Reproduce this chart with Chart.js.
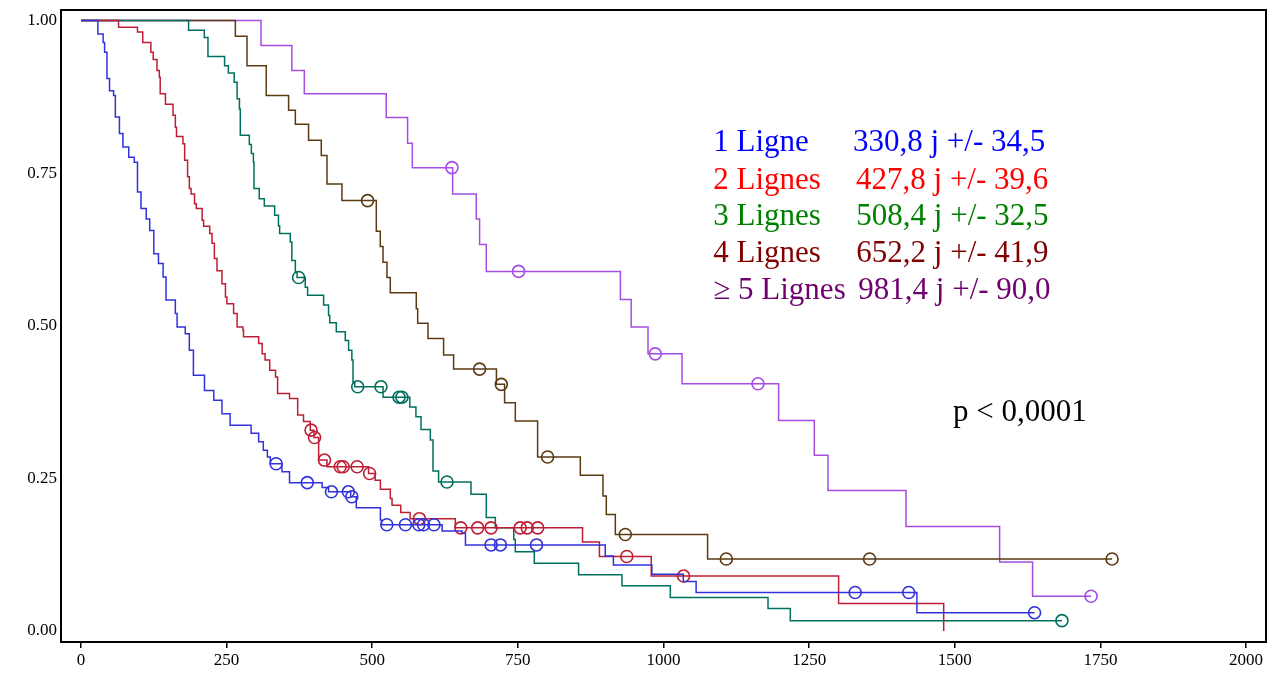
<!DOCTYPE html>
<html>
<head>
<meta charset="utf-8">
<script src="https://cdn.jsdelivr.net/npm/chart.js@4.4.0/dist/chart.umd.min.js"></script>
<style>
  html, body { margin: 0; padding: 0; background: #fff; }
  #wrap { width: 1283px; height: 685px; }
</style>
</head>
<body>
<div id="wrap"><canvas id="km"></canvas></div>
<script>
// Kaplan-Meier curves: time (jours) where the curve drops, survival after the drop
const ligne1Times = [0, 29, 38, 40.5, 44.6, 49, 56, 59, 66, 72, 82, 91.5, 97, 103, 112, 118, 125, 133, 141, 146, 162, 165, 179, 186, 193, 212, 228, 242, 256, 292, 305, 313, 320, 325, 345, 358, 414, 425, 463, 472.6, 514, 516, 620, 654, 660, 900, 914, 980, 1034, 1056, 1435, 1637];
const ligne1Surv  = [1, 0.978, 0.964, 0.948, 0.905, 0.885, 0.877, 0.842, 0.815, 0.793, 0.776, 0.768, 0.719, 0.692, 0.675, 0.656, 0.618, 0.602, 0.58, 0.542, 0.52, 0.498, 0.487, 0.46, 0.419, 0.394, 0.378, 0.356, 0.337, 0.324, 0.31, 0.296, 0.285, 0.274, 0.261, 0.243, 0.235, 0.228, 0.22, 0.202, 0.182, 0.174, 0.164, 0.16, 0.141, 0.123, 0.108, 0.093, 0.081, 0.063, 0.03, 0.03];
const ligne1Censor = [335, 388.5, 430, 459, 465, 525, 557, 580, 588, 606, 704, 720, 782, 1329, 1421, 1637];

const ligne2Times = [0, 64.5, 97, 106, 120, 124, 130.5, 134.5, 136, 145, 158, 162, 164, 175, 178, 183, 186, 189, 195, 198, 208, 210.5, 221, 225, 229, 233.5, 242, 248, 250.5, 262, 268, 278, 279, 305, 311, 316, 324, 334, 337.5, 358, 372, 382, 393.6, 400, 408, 422.3, 493.7, 505, 514, 531, 534, 549, 565, 642.6, 861, 890, 979, 1300.6, 1481];
const ligne2Surv  = [1, 0.989, 0.981, 0.964, 0.948, 0.936, 0.918, 0.907, 0.88, 0.863, 0.845, 0.825, 0.81, 0.798, 0.771, 0.744, 0.725, 0.716, 0.7, 0.692, 0.673, 0.663, 0.651, 0.635, 0.61, 0.59, 0.569, 0.547, 0.536, 0.52, 0.498, 0.493, 0.482, 0.471, 0.454, 0.444, 0.427, 0.416, 0.389, 0.381, 0.354, 0.343, 0.329, 0.317, 0.28, 0.269, 0.258, 0.247, 0.232, 0.217, 0.206, 0.194, 0.184, 0.169, 0.146, 0.122, 0.09, 0.045, 0];
const ligne2Censor = [395, 401, 418, 445, 450, 474, 495.5, 581, 652, 681, 704, 754, 766, 784, 937, 1034.5];

const ligne3Times = [0, 184.7, 211.7, 218, 246.5, 253, 263, 268, 272, 273.5, 289, 292.5, 296, 297, 306, 314.7, 332.5, 339, 341, 359.3, 362, 368, 371, 385, 389, 416.5, 425, 427, 438.3, 453.7, 459.4, 465, 467, 470, 518.6, 564.5, 575, 583.7, 599.7, 604.3, 613.9, 669.5, 695.8, 711.3, 743, 745.6, 778.2, 854.2, 928.7, 1011.7, 1179.4, 1217.7, 1684];
const ligne3Surv  = [1, 0.984, 0.972, 0.941, 0.926, 0.914, 0.899, 0.872, 0.855, 0.812, 0.797, 0.782, 0.768, 0.725, 0.708, 0.696, 0.681, 0.664, 0.651, 0.637, 0.607, 0.588, 0.579, 0.563, 0.55, 0.534, 0.517, 0.505, 0.49, 0.476, 0.46, 0.444, 0.408, 0.4, 0.383, 0.367, 0.351, 0.33, 0.313, 0.262, 0.244, 0.224, 0.186, 0.169, 0.15, 0.13, 0.111, 0.092, 0.074, 0.055, 0.037, 0.017, 0.017];
const ligne3Censor = [373.6, 475, 515, 546, 551, 628.3, 1684];

const ligne4Times = [0, 265, 285, 318, 356.4, 368, 390.7, 412.5, 422.3, 448, 507, 513.8, 518.5, 525.3, 531, 575.6, 578, 595.7, 622.5, 639.7, 713.2, 727.2, 745.6, 783.9, 857.2, 896.1, 901.8, 917.3, 1075.7, 1770];
const ligne4Surv  = [1, 0.974, 0.926, 0.877, 0.853, 0.83, 0.804, 0.779, 0.732, 0.705, 0.655, 0.63, 0.604, 0.579, 0.554, 0.528, 0.504, 0.479, 0.452, 0.429, 0.404, 0.374, 0.344, 0.285, 0.255, 0.221, 0.191, 0.158, 0.118, 0.118];
const ligne4Censor = [492, 684.3, 721.6, 801, 934.4, 1107.8, 1353.8, 1770];

const ligne5Times = [0, 309, 362, 383.4, 524, 560.7, 568.8, 638, 678.6, 684.3, 695.8, 926, 944.5, 973.4, 1031.8, 1197.6, 1258.9, 1282.4, 1416.3, 1577, 1633.6, 1734];
const ligne5Surv  = [1, 0.959, 0.918, 0.88, 0.841, 0.799, 0.759, 0.716, 0.675, 0.633, 0.589, 0.543, 0.498, 0.454, 0.405, 0.345, 0.288, 0.23, 0.171, 0.113, 0.057, 0.057];
const ligne5Censor = [636.9, 751.2, 985.9, 1162.2, 1734];

const xTicks = [0, 250, 500, 750, 1000, 1250, 1500, 1750, 2000];
const yTicks = [0, 0.25, 0.5, 0.75, 1];

const legendLabels = ['1 Ligne', '2 Lignes', '3 Lignes', '4 Lignes', '\u2265 5 Lignes'];
const legendValues = ['330,8 j +/- 34,5', '427,8 j +/- 39,6', '508,4 j +/- 32,5', '652,2 j +/- 41,9', '981,4 j +/- 90,0'];
const pText = 'p < 0,0001';

const curveColors = ['#3232dc', '#be1e34', '#00705e', '#5b3a12', '#a44de4'];
const textColors = ['#0000ff', '#ff0000', '#008000', '#800000', '#700070'];

const SERIF = '"Liberation Serif", "Times New Roman", serif';

function survAt(times, surv, t) {
    let v = surv[0];
    for (let i = 0; i < times.length; i++) {
        if (times[i] <= t) v = surv[i];
    }
    return v;
}

const groups = [
    [ligne1Times, ligne1Surv, ligne1Censor],
    [ligne2Times, ligne2Surv, ligne2Censor],
    [ligne3Times, ligne3Surv, ligne3Censor],
    [ligne4Times, ligne4Surv, ligne4Censor],
    [ligne5Times, ligne5Surv, ligne5Censor]
];

const datasets = [];
groups.forEach((g, i) => {
    datasets.push({
        type: 'line',
        data: g[0].map((t, k) => ({ x: t, y: g[1][k] })),
        borderColor: curveColors[i],
        borderWidth: 1.5,
        stepped: 'before',
        pointRadius: 0,
        fill: false
    });
    datasets.push({
        type: 'scatter',
        data: g[2].map(t => ({ x: t, y: survAt(g[0], g[1], t) })),
        borderColor: curveColors[i],
        backgroundColor: 'rgba(0,0,0,0)',
        borderWidth: 1.6,
        pointRadius: 6,
        pointStyle: 'circle'
    });
});

// frame around the plot + text annotations
const annotations = {
    id: 'annotations',
    afterDraw(chart) {
        const { ctx, chartArea, scales } = chart;
        const xs = scales.x, ys = scales.y;
        ctx.save();
        ctx.strokeStyle = '#000';
        ctx.lineWidth = 2;
        ctx.strokeRect(chartArea.left, chartArea.top, chartArea.right - chartArea.left, chartArea.bottom - chartArea.top);

        ctx.font = '31px ' + SERIF;
        ctx.textAlign = 'left';
        ctx.textBaseline = 'alphabetic';
        const rowY = [0.786, 0.7245, 0.6645, 0.6044, 0.5445];
        const valX = [1325.3, 1330.5, 1331, 1331, 1334.4];
        legendLabels.forEach((lab, i) => {
            ctx.fillStyle = textColors[i];
            ctx.fillText(lab, xs.getPixelForValue(1085.5), ys.getPixelForValue(rowY[i]));
            ctx.fillText(legendValues[i], xs.getPixelForValue(valX[i]), ys.getPixelForValue(rowY[i]));
        });
        ctx.fillStyle = '#000';
        ctx.fillText(pText, xs.getPixelForValue(1497), ys.getPixelForValue(0.3437));
        ctx.restore();
    }
};

new Chart(document.getElementById('km'), {
    data: { datasets: datasets },
    options: {
        responsive: true,
        maintainAspectRatio: false,
        animation: false,
        layout: { padding: { top: 10, right: 17, left: 0, bottom: 0 } },
        plugins: {
            legend: { display: false },
            tooltip: { enabled: false }
        },
        scales: {
            x: {
                type: 'linear',
                min: -34.3,
                max: 2034.3,
                afterBuildTicks: s => { s.ticks = xTicks.map(v => ({ value: v })); },
                afterFit: s => { s.height = 43; s.paddingLeft = 0; s.paddingRight = 0; },
                ticks: {
                    callback: v => String(v),
                    color: '#000',
                    font: { family: SERIF, size: 17 },
                    maxRotation: 0,
                    autoSkip: false,
                    padding: 2
                },
                grid: { drawOnChartArea: false, drawTicks: true, tickLength: 6, color: '#000', lineWidth: 1.5 },
                border: { display: false }
            },
            y: {
                type: 'linear',
                min: -0.018,
                max: 1.0172,
                afterBuildTicks: s => { s.ticks = yTicks.map(v => ({ value: v })); },
                afterFit: s => { s.width = 61; s.paddingTop = 0; s.paddingBottom = 0; },
                ticks: {
                    callback: v => v.toFixed(2),
                    color: '#000',
                    font: { family: SERIF, size: 17 },
                    padding: 4
                },
                grid: { drawOnChartArea: false, drawTicks: false },
                border: { display: false }
            }
        }
    },
    plugins: [annotations]
});
</script>
</body>
</html>
